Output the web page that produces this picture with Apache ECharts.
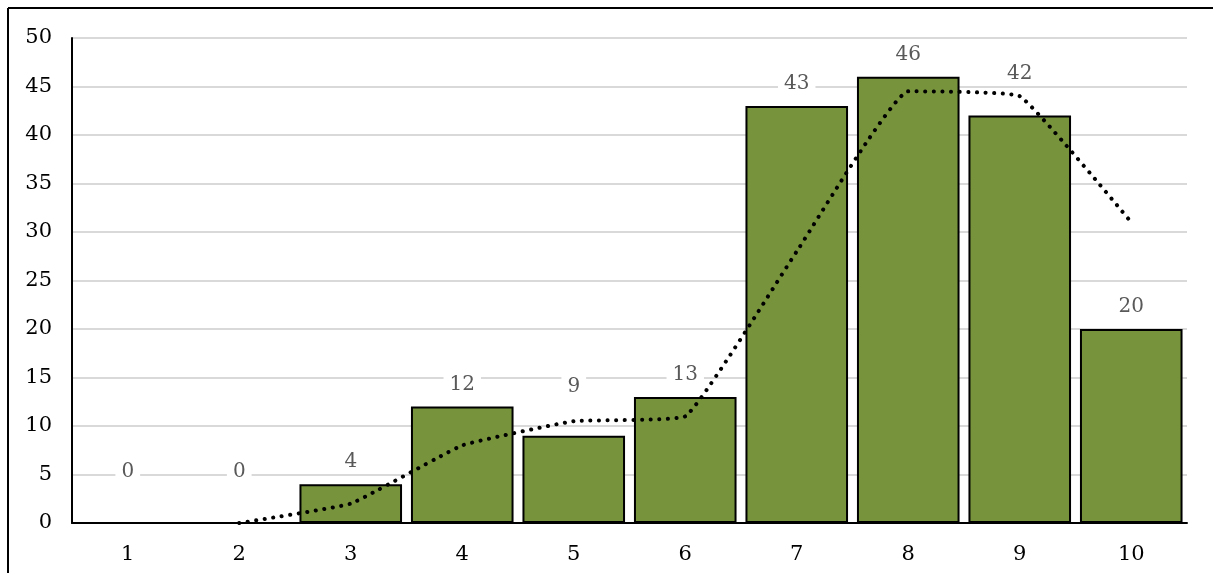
<!DOCTYPE html>
<html>
<head>
<meta charset="utf-8">
<script src="https://cdn.jsdelivr.net/npm/echarts@6/dist/echarts.min.js"></script>
<style>
  html, body { margin: 0; padding: 0; background: #fff; }
  #chart { width: 1213px; height: 573px; }
</style>
</head>
<body>
<div id="chart"></div>
<script>
// Categories along the x axis
const categories = ['1', '2', '3', '4', '5', '6', '7', '8', '9', '10'];
// Bar heights
const counts = [0, 0, 4, 12, 9, 13, 43, 46, 42, 20];
// Two-period moving average trend (starts at the second category)
const trend = [null, 0, 2, 8, 10.5, 11, 28, 44.5, 44, 31];

// Labels that sit higher than the default to stay clear of the trend line
const labelLift = { 0: 28, 1: 28, 4: 27, 8: 20 };

const serif = '"DejaVu Serif", serif';

const barData = counts.map((v, i) => {
  const item = { value: v };
  if (labelLift[i]) item.label = { distance: 12 + labelLift[i] };
  return item;
});

const chart = echarts.init(document.getElementById('chart'), null, { renderer: 'canvas' });
chart.setOption({
  animation: false,
  backgroundColor: '#ffffff',
  grid: { left: 72, right: 26, top: 38, bottom: 50, containLabel: false },
  graphic: [
    { type: 'line', shape: { x1: 8, y1: 8, x2: 1213, y2: 8 }, style: { stroke: '#000', lineWidth: 2 } },
    { type: 'line', shape: { x1: 8, y1: 8, x2: 8, y2: 573 }, style: { stroke: '#000', lineWidth: 2 } }
  ],
  xAxis: {
    type: 'category',
    data: categories,
    axisLine: { show: true, lineStyle: { color: '#000', width: 2 } },
    axisTick: { show: false },
    axisLabel: { color: '#000', fontFamily: serif, fontSize: 21, margin: 21 }
  },
  yAxis: {
    type: 'value',
    min: 0,
    max: 50,
    interval: 5,
    axisLine: { show: true, lineStyle: { color: '#000', width: 2 } },
    axisTick: { show: false },
    axisLabel: { color: '#000', fontFamily: serif, fontSize: 21, margin: 20 },
    splitLine: { show: true, lineStyle: { color: '#d9d9d9', width: 2 } }
  },
  series: [
    {
      type: 'bar',
      data: barData,
      barCategoryGap: '8%',
      itemStyle: { color: '#77933c', borderColor: '#000', borderWidth: 2 },
      label: {
        show: true,
        position: 'top',
        distance: 12,
        color: '#595959',
        fontFamily: serif,
        fontSize: 20,
        backgroundColor: '#ffffff',
        padding: [0, 6]
      },
      z: 2
    },
    {
      type: 'line',
      data: trend,
      symbol: 'none',
      smooth: 0.1,
      connectNulls: false,
      lineStyle: { color: '#000', width: 4, type: [0.1, 8.5], cap: 'round' },
      z: 5
    }
  ]
});
</script>
</body>
</html>
